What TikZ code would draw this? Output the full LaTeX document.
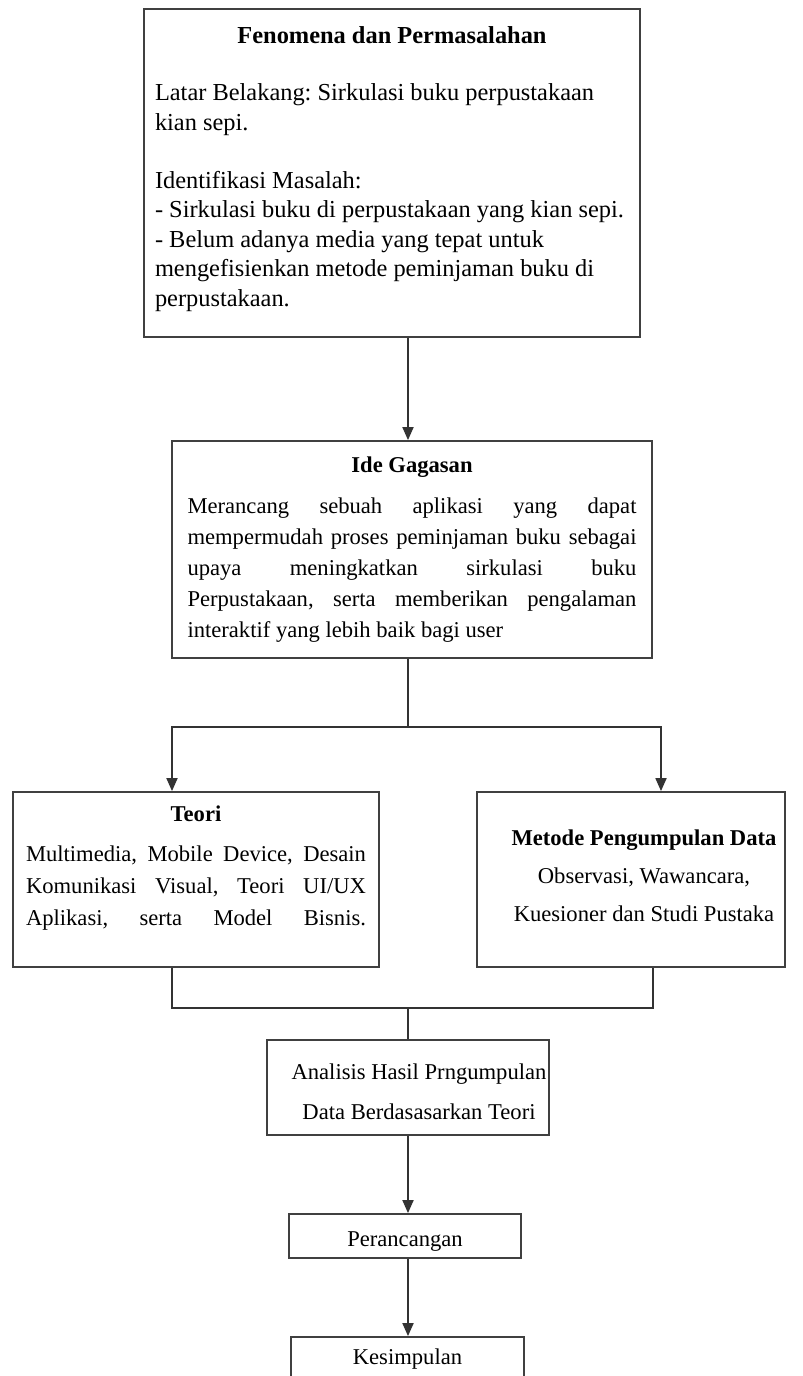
\documentclass[tikz,border=0pt]{standalone}
\usepackage{fontspec}
\setmainfont{Liberation Serif}
\usetikzlibrary{arrows.meta}
\frenchspacing
\newcommand{\spreadline}[1]{\makebox[\hsize][s]{#1}}
\newcommand{\padbottom}[1]{\par\vspace{#1}\hrule height 0pt}
\newcommand{\padtop}[1]{\hrule height 0pt\vspace{#1}}

\begin{document}
\begin{tikzpicture}[x=0.5pt,y=-0.5pt,
    boxnode/.style={draw=black!75, line width=0.9pt, rectangle, inner sep=0pt},
    flowarrow/.style={draw=black!80, line width=0.9pt, -{Triangle[width=5.5pt,length=6.5pt]}},
    plainline/.style={draw=black!80, line width=0.9pt}]
  \useasboundingbox (0,0) rectangle (803,1376);

  % boxes
  \node[boxnode, minimum width=248pt, minimum height=164pt, text width=237pt, align=flush left,
        font=\fontsize{12.2}{14.8}\selectfont] (fenomena) at (392,173) {%
    {\centering\bfseries Fenomena dan Permasalahan\par}
    \vspace{14pt}
    Latar Belakang: Sirkulasi buku perpustakaan\\
    kian sepi.\par
    \vspace{14pt}
    Identifikasi Masalah:\\
    - Sirkulasi buku di perpustakaan yang kian sepi.\\
    - Belum adanya media yang tepat untuk\\
    mengefisienkan metode peminjaman buku di\\
    perpustakaan.\padbottom{4pt}};

  \node[boxnode, minimum width=240pt, minimum height=108.5pt, text width=224.5pt, align=flush left,
        font=\fontsize{11.3}{15.6}\selectfont] (ide) at (412,549.5) {%
    {\centering\bfseries Ide Gagasan\par}
    \vspace{4.9pt}
    \spreadline{Merancang sebuah aplikasi yang dapat}\\
    \spreadline{mempermudah proses peminjaman buku sebagai}\\
    \spreadline{upaya meningkatkan sirkulasi buku}\\
    \spreadline{Perpustakaan, serta memberikan pengalaman}\\
    interaktif yang lebih baik bagi user};

  \node[boxnode, minimum width=183pt, minimum height=87.5pt, text width=170pt, align=flush left,
        font=\fontsize{11.3}{16}\selectfont] (teori) at (196,879.5) {%
    {\centering\bfseries Teori\par}
    \vspace{4pt}
    \spreadline{Multimedia, Mobile Device, Desain}\\
    \spreadline{Komunikasi Visual, Teori UI/UX}\\
    \spreadline{Aplikasi, serta Model Bisnis.}\padbottom{11pt}};

  \node[boxnode, minimum width=154pt, minimum height=87.5pt, text width=150pt, align=flush center,
        font=\fontsize{11.3}{19}\selectfont] (metode) at (631,879.5) {%
    \hspace*{13pt}\textbf{Metode Pengumpulan Data}\\
    \hspace*{13pt}Observasi, Wawancara,\\
    \hspace*{13pt}Kuesioner dan Studi Pustaka\padbottom{3.5pt}};

  \node[boxnode, minimum width=141pt, minimum height=47.5pt, text width=141pt, align=flush center,
        font=\fontsize{11.3}{20}\selectfont] (analisis) at (408,1087.5) {%
    \padtop{4pt}
    \hspace*{11pt}Analisis Hasil Prngumpulan\\
    \hspace*{11pt}Data Berdasasarkan Teori};

  \node[boxnode, minimum width=116pt, minimum height=22pt, text height=10.2pt, text depth=0pt,
        font=\fontsize{11.3}{14}\selectfont] (perancangan) at (405,1236) {Perancangan};
  \node[boxnode, minimum width=116.5pt, minimum height=22pt, font=\fontsize{11.3}{14}\selectfont]
        (kesimpulan) at (407.5,1359) {Kesimpulan};

  % connector ports
  \coordinate (spine) at (408,0);
  \coordinate (teoriport) at (172,0);
  \coordinate (metodeinport) at (661,0);
  \coordinate (metodeoutport) at (653,0);
  \coordinate (split) at (408,727);
  \coordinate (merge) at (408,1008);

  \draw[flowarrow] (fenomena.south -| spine) -- (ide.north -| spine);
  \draw[plainline] (ide.south -| spine) -- (split);
  \draw[flowarrow] (split) -| (teori.north -| teoriport);
  \draw[flowarrow] (split) -| (metode.north -| metodeinport);
  \draw[plainline] (teori.south -| teoriport) |- (merge) -| (metode.south -| metodeoutport);
  \draw[plainline] (merge) -- (analisis.north -| spine);
  \draw[flowarrow] (analisis.south -| spine) -- (perancangan.north -| spine);
  \draw[flowarrow] (perancangan.south -| spine) -- (kesimpulan.north -| spine);
\end{tikzpicture}
\end{document}
